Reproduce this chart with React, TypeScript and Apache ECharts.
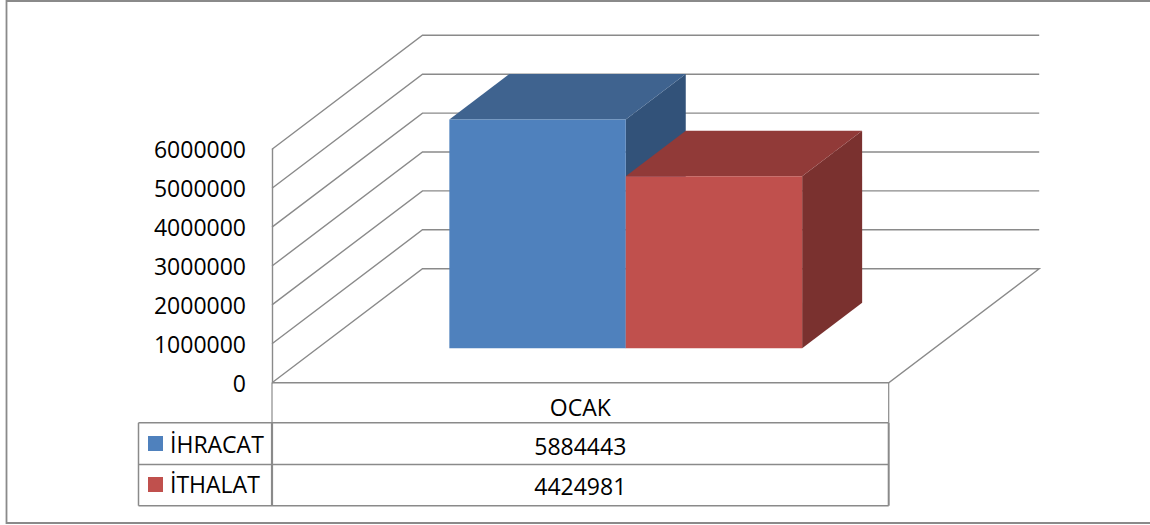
import React, { useEffect, useRef } from "react";
import * as echarts from "echarts";

const categories = ["OCAK"];
const seriesNames = ["İHRACAT", "İTHALAT"];
const ihracatValues = [5884443];
const ithalatValues = [4424981];
const yTicks = [0, 1000000, 2000000, 3000000, 4000000, 5000000, 6000000];

const FONT = "'Open Sans'";
const FONT_SIZE = 23;
const TEXT = "#000000";
const LINE = "#8a8a8a";

// 3D projection geometry (pixels)
const WALL_DX = 150.5;
const WALL_DY = -114;
const BAR_DX = 60;
const BAR_DY = -45.5;
const BAR_BASE_LIFT = 34.4;
const BAR_W = 176.4;
const BAR_LEFT_FROM_CENTER = -131;

const palettes = [
  { front: "#4F81BD", top: "#3F638F", side: "#325279" },
  { front: "#C0504D", top: "#913A38", side: "#7A312F" },
];

const wallItem = (params: any, api: any) => {
  const value = api.value(1);
  const [, y] = api.coord([0, value]);
  const left = params.coordSys.x;
  const right = left + params.coordSys.width;
  const pts: number[][] =
    value === 0
      ? [
          [left, y],
          [left + WALL_DX, y + WALL_DY],
          [right + WALL_DX, y + WALL_DY],
          [right, y],
          [left, y],
        ]
      : [
          [left, y],
          [left + WALL_DX, y + WALL_DY],
          [right + WALL_DX, y + WALL_DY],
        ];
  return {
    type: "polyline",
    shape: { points: pts },
    style: { stroke: LINE, lineWidth: 1.4, fill: "none" },
    silent: true,
  };
};

const barItem = (index: number) => (_params: any, api: any) => {
  const [cx, y0] = api.coord([0, 0]);
  const [, yv] = api.coord([0, api.value(1)]);
  const h = y0 - yv;
  const x0 = cx + BAR_LEFT_FROM_CENTER + index * BAR_W;
  const x1 = x0 + BAR_W;
  const base = y0 - BAR_BASE_LIFT;
  const top = base - h;
  const p = palettes[index];
  const poly = (points: number[][], fill: string) => ({
    type: "polygon",
    shape: { points },
    style: { fill },
    silent: true,
  });
  return {
    type: "group",
    children: [
      poly(
        [
          [x1, base],
          [x1 + BAR_DX, base + BAR_DY],
          [x1 + BAR_DX, top + BAR_DY],
          [x1, top],
        ],
        p.side
      ),
      poly(
        [
          [x0, top],
          [x0 + BAR_DX, top + BAR_DY],
          [x1 + BAR_DX, top + BAR_DY],
          [x1, top],
        ],
        p.top
      ),
      poly(
        [
          [x0, base],
          [x0, top],
          [x1, top],
          [x1, base],
        ],
        p.front
      ),
    ],
  };
};

const line = (x1: number, y1: number, x2: number, y2: number, lineWidth = 1.5) => ({
  type: "line",
  shape: { x1, y1, x2, y2 },
  style: { stroke: LINE, lineWidth },
  silent: true,
});

const tableText = (text: string, x: number, y: number, align: string) => ({
  type: "text",
  x,
  y,
  style: { text, fill: TEXT, font: `${FONT_SIZE}px ${FONT}`, align, verticalAlign: "middle" },
  silent: true,
});

const swatch = (x: number, y: number, fill: string) => ({
  type: "rect",
  shape: { x, y, width: 15, height: 15 },
  style: { fill },
  silent: true,
});

const App = () => {
  const ref = useRef<HTMLDivElement>(null);
  useEffect(() => {
    const chart = echarts.init(ref.current!, null, { renderer: "svg" });
    const tableLeft = 138.5;
    const axisX = 272;
    const tableRight = 888.7;
    const rows = [422.8, 464.5, 505.7];
    chart.setOption({
      animation: false,
      backgroundColor: "#ffffff",
      grid: { left: axisX, top: 149.3, width: tableRight - axisX, height: 233.4 },
      xAxis: {
        type: "category",
        data: categories,
        axisTick: { show: false },
        axisLine: { show: false },
        axisLabel: { interval: 0, margin: 13, color: TEXT, fontFamily: FONT, fontSize: FONT_SIZE },
      },
      yAxis: {
        type: "value",
        min: 0,
        max: 6000000,
        interval: 1000000,
        axisLine: { show: true, lineStyle: { color: LINE, width: 1.4 } },
        axisTick: { show: false },
        splitLine: { show: false },
        axisLabel: {
          margin: 26,
          color: TEXT,
          fontFamily: FONT,
          fontSize: FONT_SIZE,
          formatter: (v: number) => String(v),
        },
      },
      series: [
        {
          type: "custom",
          name: "grid",
          renderItem: wallItem,
          data: yTicks.map((t) => [0, t]),
          silent: true,
          z: 1,
        },
        {
          type: "custom",
          name: seriesNames[0],
          renderItem: barItem(0),
          data: ihracatValues.map((v, i) => [i, v]),
          silent: true,
          z: 2,
        },
        {
          type: "custom",
          name: seriesNames[1],
          renderItem: barItem(1),
          data: ithalatValues.map((v, i) => [i, v]),
          silent: true,
          z: 3,
        },
      ],
      graphic: {
        elements: [
          {
            type: "rect",
            shape: { x: 6.5, y: 1, width: 1170, height: 522 },
            style: { fill: "none", stroke: LINE, lineWidth: 1.8 },
            silent: true,
          },
          line(axisX, 382.7, axisX, rows[0], 1.2),
          line(tableRight, 382.7, tableRight, rows[0], 1.2),
          line(tableLeft, rows[0], tableRight, rows[0]),
          line(tableLeft, rows[1], tableRight, rows[1]),
          line(tableLeft, rows[2], tableRight, rows[2]),
          line(tableLeft, rows[0], tableLeft, rows[2]),
          line(axisX, rows[0], axisX, rows[2], 2.2),
          line(tableRight, rows[0], tableRight, rows[2], 2),
          swatch(148, 436, palettes[0].front),
          swatch(148, 477, palettes[1].front),
          tableText(seriesNames[0], 170, 444, "left"),
          tableText(seriesNames[1], 170, 484, "left"),
          tableText(String(ihracatValues[0]), 580.3, 446, "center"),
          tableText(String(ithalatValues[0]), 580.3, 486, "center"),
        ],
      },
    });
    return () => chart.dispose();
  }, []);
  return (
    <div
      ref={ref}
      style={{ position: "absolute", left: 0, top: 0, width: 1150, height: 525 }}
    />
  );
};

export default App;
